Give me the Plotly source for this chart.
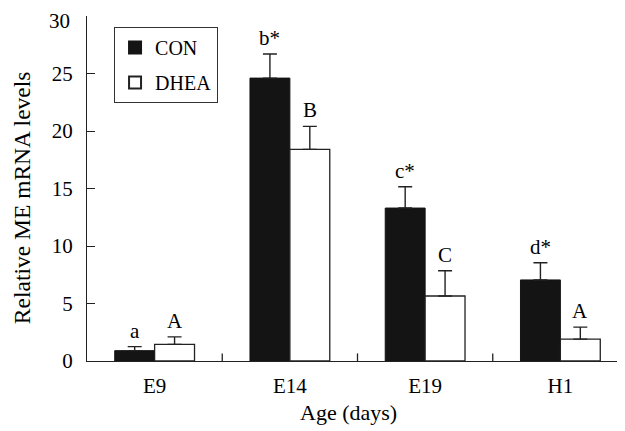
import plotly.graph_objects as go

categories = ["E9", "E14", "E19", "H1"]
con_values = [0.9, 24.6, 13.3, 7.05]
con_errors = [0.35, 2.1, 1.85, 1.5]
dhea_values = [1.45, 18.4, 5.65, 1.9]
dhea_errors = [0.65, 2.0, 2.2, 1.05]
con_labels = ["a", "b*", "c*", "d*"]
dhea_labels = ["A", "B", "C", "A"]
y_ticks = [0, 5, 10, 15, 20, 25, 30]

FONT = "Liberation Serif"

fig = go.Figure()
fig.add_trace(go.Bar(
    x=categories, y=con_values, name="CON", legendgroup="con",
    marker=dict(color="#141414", line=dict(color="#141414", width=1)),
    error_y=dict(type="data", array=con_errors, arrayminus=[0]*4, symmetric=False,
                 color="#222", thickness=1.4, width=7),
))
fig.add_trace(go.Bar(
    x=categories, y=dhea_values, name="DHEA", legendgroup="dhea",
    marker=dict(color="white", line=dict(color="#222", width=1.3)),
    error_y=dict(type="data", array=dhea_errors, arrayminus=[0]*4, symmetric=False,
                 color="#222", thickness=1.4, width=7),
))

annotations = []
for i, c in enumerate(categories):
    annotations.append(dict(x=i, y=con_values[i] + con_errors[i], text=con_labels[i],
                            xref="x", yref="y", xshift=-20, yanchor="bottom", yshift=2,
                            showarrow=False, font=dict(family=FONT, size=21, color="black")))
    annotations.append(dict(x=i, y=dhea_values[i] + dhea_errors[i], text=dhea_labels[i],
                            xref="x", yref="y", xshift=20, yanchor="bottom", yshift=2,
                            showarrow=False, font=dict(family=FONT, size=21, color="black")))

# top tick label drawn as annotation (kept inside the page)
top_tick = y_ticks[-1]
annotations.append(dict(x=0, y=top_tick, xref="paper", yref="y", xanchor="right",
                        yanchor="middle", xshift=-15, yshift=-5, showarrow=False,
                        text=str(top_tick), font=dict(family=FONT, size=21, color="black")))

# axis titles
annotations.append(dict(x=0, y=0.472, xref="paper", yref="paper", xshift=-65,
                        xanchor="center", yanchor="middle", textangle=-90, showarrow=False,
                        text="Relative ME mRNA levels",
                        font=dict(family=FONT, size=23.5, color="black")))
annotations.append(dict(x=0.483, y=0, xref="paper", yref="paper", yshift=-51,
                        xanchor="center", yanchor="middle", showarrow=False,
                        text="Age (days)",
                        font=dict(family=FONT, size=22, color="black")))

tick_text = [str(t) for t in y_ticks[:-1]] + [""]

fig.update_layout(
    width=625, height=431,
    margin=dict(l=79, r=5, t=8, b=78, autoexpand=False),
    paper_bgcolor="white", plot_bgcolor="white",
    font=dict(family=FONT, size=20, color="black"),
    barmode="group", bargap=0.41, bargroupgap=0,
    showlegend=True,
    legend=dict(x=0.05, y=0.968, xanchor="left", yanchor="top",
                bordercolor="#333", borderwidth=1, bgcolor="white",
                font=dict(family=FONT, size=20), traceorder="grouped", tracegroupgap=6,
                itemsizing="constant"),
    annotations=annotations,
    xaxis=dict(
        range=[-0.5, 3.5], showline=True, linecolor="#222", linewidth=1.3,
        tickmode="array", tickvals=[0, 1, 2, 3], ticktext=categories,
        ticks="", showgrid=False, zeroline=False, ticklabelstandoff=6,
        tickfont=dict(family=FONT, size=21),
    ),
    yaxis=dict(
        range=[0, 30], showline=True, linecolor="#222", linewidth=1.3,
        tickmode="array", tickvals=y_ticks, ticktext=tick_text,
        ticks="inside", ticklen=8, tickcolor="#222", tickwidth=1.3,
        showgrid=False, zeroline=False, ticklabelstandoff=9,
        tickfont=dict(family=FONT, size=21),
    ),
)

# separator ticks between categories on x axis
for b in [0.5, 1.5, 2.5]:
    fig.add_shape(type="line", xref="x", yref="paper", x0=b, x1=b, y0=0, y1=0.022,
                  line=dict(color="#222", width=1.3))

fig.write_html("out.html")
